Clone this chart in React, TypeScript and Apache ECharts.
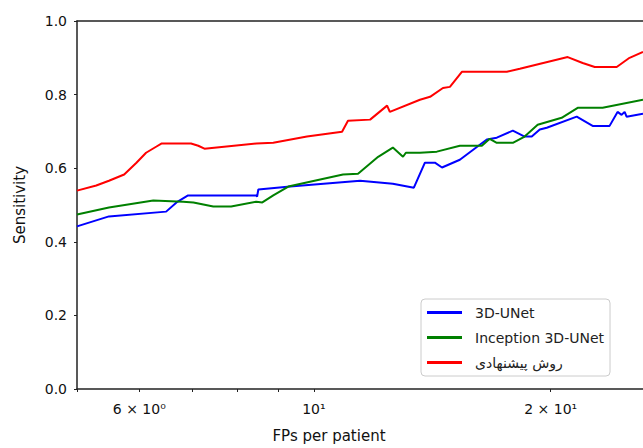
import React, { useEffect, useRef } from "react";
import * as echarts from "echarts";

// FPs per patient (x) and sensitivity (y) per method
const unetX = [5.0, 5.49, 6.49, 6.69, 6.92, 8.45, 8.47, 8.5, 9.33, 11.45, 12.6, 13.4, 13.84, 14.25, 14.55, 15.33, 16.59, 17.08, 17.9, 18.53, 18.92, 19.37, 19.77, 21.58, 22.61, 23.76, 24.32, 24.61, 24.83, 24.97, 26.2];
const unetY = [0.442, 0.469, 0.482, 0.507, 0.526, 0.526, 0.523, 0.542, 0.55, 0.566, 0.558, 0.547, 0.615, 0.615, 0.602, 0.623, 0.678, 0.683, 0.702, 0.686, 0.686, 0.705, 0.71, 0.74, 0.715, 0.715, 0.753, 0.745, 0.753, 0.74, 0.748];

const incX = [5.0, 5.49, 6.25, 6.82, 7.03, 7.45, 7.85, 8.45, 8.6, 8.88, 9.28, 10.89, 11.38, 12.07, 12.6, 12.98, 13.09, 13.64, 14.33, 15.33, 16.35, 16.73, 17.08, 17.9, 18.53, 19.25, 20.65, 21.64, 23.28, 26.2];
const incY = [0.474, 0.493, 0.512, 0.509, 0.507, 0.496, 0.496, 0.509, 0.507, 0.526, 0.55, 0.583, 0.585, 0.631, 0.656, 0.631, 0.642, 0.642, 0.645, 0.661, 0.661, 0.68, 0.669, 0.669, 0.686, 0.718, 0.737, 0.764, 0.764, 0.786];

const propX = [5.0, 5.29, 5.49, 5.74, 5.95, 6.12, 6.31, 6.4, 6.98, 7.13, 7.26, 8.45, 8.88, 9.8, 10.86, 11.05, 11.79, 12.39, 12.49, 13.64, 14.05, 14.59, 14.89, 15.42, 17.59, 18.27, 21.02, 21.96, 22.75, 24.26, 25.19, 26.2];
const propY = [0.539, 0.553, 0.566, 0.583, 0.615, 0.642, 0.659, 0.667, 0.667, 0.661, 0.653, 0.667, 0.669, 0.686, 0.699, 0.729, 0.732, 0.77, 0.753, 0.786, 0.794, 0.818, 0.821, 0.862, 0.862, 0.87, 0.902, 0.886, 0.875, 0.875, 0.9, 0.916];

const seriesNames = ["3D-UNet", "Inception 3D-UNet", "روش پیشنهادی"];
const seriesColors = ["#0000ff", "#008000", "#ff0000"];

const xTickValues = [5, 6, 7, 8, 9, 10, 20];
const xLabelValues = [6, 10, 20];
const xLabelTexts = ["6 × 10⁰", "10¹", "2 × 10¹"];

const FONT = "DejaVu Sans";

function pairs(xs: number[], ys: number[]) {
  return xs.map((x, i) => [x, ys[i]]);
}

export default function App() {
  const ref = useRef<HTMLDivElement>(null);
  useEffect(() => {
    if (!ref.current) return;
    const chart = echarts.init(ref.current, undefined, { renderer: "svg" });
    const data = [pairs(unetX, unetY), pairs(incX, incY), pairs(propX, propY)];
    chart.setOption({
      animation: false,
      backgroundColor: "#fff",
      grid: { left: 77, top: 21, right: 0, bottom: 58, containLabel: false },
      xAxis: [
        {
          type: "log",
          logBase: 10,
          min: 5,
          max: 26.2,
          name: "FPs per patient",
          nameLocation: "middle",
          nameGap: 39,
          nameTextStyle: { fontFamily: FONT, fontSize: 15, color: "#111", padding: [0, 62, 0, 0] },
          axisLine: { show: true, lineStyle: { color: "#222", width: 1.5 } },
          axisTick: { show: true, customValues: xTickValues, length: 3, lineStyle: { color: "#222" } },
          axisLabel: {
            customValues: xLabelValues,
            fontFamily: FONT,
            fontSize: 14,
            color: "#111",
            margin: 13,
            formatter: (v: number) => {
              const i = xLabelValues.findIndex((t) => Math.abs(t - v) < 1e-6 * t + 1e-6);
              return i >= 0 ? xLabelTexts[i] : "";
            },
          },
          splitLine: { show: false },
          minorTick: { show: false },
        },
        {
          type: "value",
          position: "top",
          min: 0,
          max: 1,
          axisLine: { show: true, lineStyle: { color: "#222", width: 1.5 } },
          axisTick: { show: false },
          axisLabel: { show: false },
          splitLine: { show: false },
        },
      ],
      yAxis: {
        type: "value",
        min: 0,
        max: 1,
        interval: 0.2,
        name: "Sensitivity",
        nameLocation: "middle",
        nameGap: 50,
        nameTextStyle: { fontFamily: FONT, fontSize: 15, color: "#111" },
        axisLine: { show: true, lineStyle: { color: "#222", width: 1.5 } },
        axisTick: { show: true, length: 3, lineStyle: { color: "#222" } },
        axisLabel: {
          fontFamily: FONT,
          fontSize: 14,
          color: "#111",
          margin: 10,
          formatter: (v: number) => v.toFixed(1),
        },
        splitLine: { show: false },
      },
      legend: {
        orient: "vertical",
        left: 421,
        top: 299,
        icon: "rect",
        itemWidth: 35,
        itemHeight: 3,
        itemGap: 8,
        padding: [5, 6, 5, 6],
        borderColor: "#cccccc",
        borderWidth: 1,
        borderRadius: 4,
        backgroundColor: "#ffffff",
        textStyle: { fontFamily: FONT, fontSize: 14, color: "#222", padding: [0, 0, 0, 8], lineHeight: 17 },
        data: seriesNames,
      },
      series: seriesNames.map((name, i) => ({
        name,
        type: "line",
        xAxisIndex: 0,
        data: data[i],
        symbol: "none",
        lineStyle: { color: seriesColors[i], width: 2 },
        itemStyle: { color: seriesColors[i] },
        clip: true,
      })),
    });
    return () => chart.dispose();
  }, []);
  return <div ref={ref} style={{ width: 643, height: 448, position: "absolute", left: 0, top: 0 }} />;
}
